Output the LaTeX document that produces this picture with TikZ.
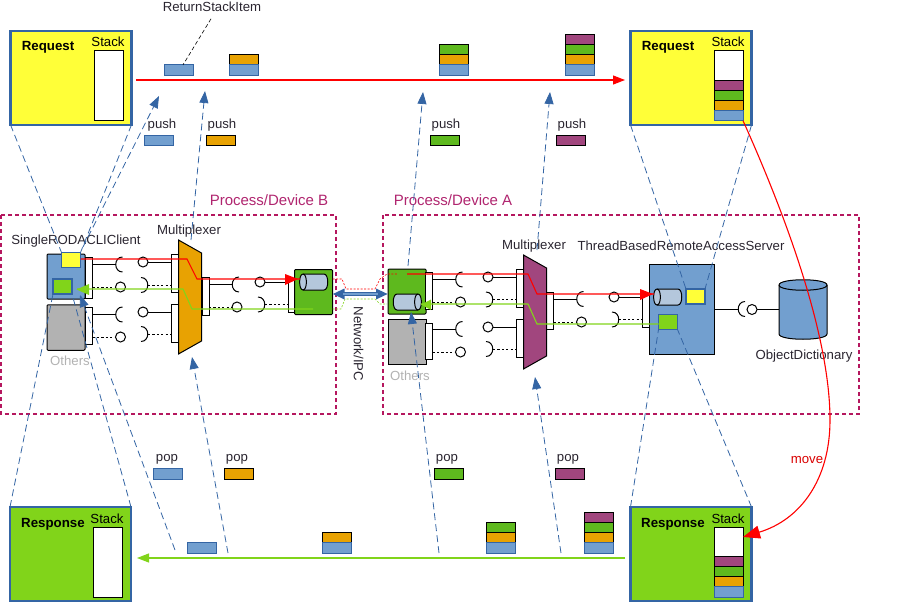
\documentclass[tikz,border=0pt]{standalone}
\usepackage{fontspec}
\setmainfont{Liberation Sans}
\usetikzlibrary{arrows.meta}
\definecolor{cBlue}{HTML}{729FCF}
\definecolor{cEdge}{HTML}{3465A4}
\definecolor{cOrange}{HTML}{E8A202}
\definecolor{cGreen}{HTML}{5EB91E}
\definecolor{cLime}{HTML}{81D41A}
\definecolor{cPurple}{HTML}{A1467E}
\definecolor{cYellow}{HTML}{FFFF38}
\definecolor{cGray}{HTML}{B2B2B2}
\definecolor{cPipe}{HTML}{B4C7DC}
\definecolor{cProc}{HTML}{B5175F}
\definecolor{cProcT}{HTML}{B0256F}
\definecolor{cInk}{HTML}{2A2530}
\tikzset{
  lbl/.style={inner sep=0pt,outer sep=0pt,yshift=-1pt,text=cInk,font=\fontsize{13.2}{15}\selectfont},
  titlebl/.style={lbl,yshift=-1pt,text=black,font=\fontsize{13.3}{15}\selectfont\bfseries},
  card/.style={draw=cEdge,line width=2.2pt,minimum width=121pt,minimum height=94pt,inner sep=0pt,outer sep=0pt},
  slot/.style={draw=black,fill=white,line width=.9pt,minimum width=29pt,minimum height=70pt,inner sep=0pt,outer sep=0pt},
  tok/.style={line width=.9pt,minimum width=29pt,minimum height=10.3pt,inner sep=0pt,outer sep=0pt},
  tokB/.style={tok,draw=cEdge,fill=cBlue},
  tokO/.style={tok,draw=black,fill=cOrange},
  tokG/.style={tok,draw=black,fill=cGreen},
  tokP/.style={tok,draw=black,fill=cPurple},
  comp/.style={draw=black,line width=1pt,inner sep=0pt,outer sep=0pt},
  port/.style={comp,fill=white,minimum width=7pt},
  flag/.style={draw=cEdge,line width=1.2pt,minimum width=19pt,minimum height=15pt,inner sep=0pt,outer sep=0pt},
  pipe/.style={inner sep=0pt,outer sep=0pt,minimum width=28pt,minimum height=16pt},
  proc/.style={draw=cProc,line width=2.4pt,dash pattern=on 4pt off 3pt},
  zoomln/.style={draw=cEdge,line width=.8pt,dash pattern=on 7pt off 4pt},
  flow/.style={zoomln,-{Triangle[length=12pt,width=9pt]}},
  redln/.style={red,line width=1.1pt},
  limeln/.style={cLime,line width=1.1pt},
  dotln/.style={line width=1pt,dash pattern=on 2.2pt off 2.2pt}
}
% solid link: port edge, next port, socket y, plug y
\newcommand\solidlink[4]{
  \draw[line width=1pt] (#1,#3) -- (#1+23,#3);
  \draw[line width=1pt] (#1+30,#3-7.5) .. controls (#1+21,#3-7.5) and (#1+21,#3+7.5) .. (#1+30,#3+7.5);
  \draw[line width=1pt] (#2-28,#4) circle (5pt);
  \draw[line width=1pt] (#2-23,#4) -- (#2,#4);
}
% dotted link: port edge, next port, plug y, socket y
\newcommand\dotlink[4]{
  \draw[dotln] (#1,#3) -- (#1+23,#3);
  \draw[line width=1pt] (#1+28,#3) circle (5pt);
  \draw[line width=1pt] (#2-30,#4-7.5) .. controls (#2-21,#4-7.5) and (#2-21,#4+7.5) .. (#2-30,#4+7.5);
  \draw[dotln] (#2-23,#4) -- (#2,#4);
}
% lying cylinder, end cap on the left: name, x, y
\newcommand\pipeL[3]{
  \draw[comp,fill=cPipe] (#2-11,#3-8) -- (#2+10,#3-8) .. controls (#2+15,#3-8) and (#2+15,#3+8) .. (#2+10,#3+8) -- (#2-11,#3+8) .. controls (#2-15.5,#3+8) and (#2-15.5,#3-8) .. (#2-11,#3-8) -- cycle;
  \draw[comp] (#2-11,#3-8) .. controls (#2-6.5,#3-8) and (#2-6.5,#3+8) .. (#2-11,#3+8);
  \node[pipe] (#1) at (#2,#3) {};
}
% lying cylinder, end cap on the right: name, x, y
\newcommand\pipeR[3]{
  \draw[comp,fill=cPipe] (#2+11,#3-8) -- (#2-10,#3-8) .. controls (#2-15,#3-8) and (#2-15,#3+8) .. (#2-10,#3+8) -- (#2+11,#3+8) .. controls (#2+15.5,#3+8) and (#2+15.5,#3-8) .. (#2+11,#3-8) -- cycle;
  \draw[comp] (#2+11,#3-8) .. controls (#2+6.5,#3-8) and (#2+6.5,#3+8) .. (#2+11,#3+8);
  \node[pipe] (#1) at (#2,#3) {};
}
\begin{document}
\begin{tikzpicture}[x=1pt,y=-1pt,>={Triangle[length=12pt,width=9pt]}]
  \useasboundingbox (0,0) rectangle (910,602);

  % process areas
  \draw[proc] (1,215) rectangle (336,414);
  \draw[proc] (383,215) rectangle (859,414);
  \node[lbl,text=cProcT,font=\fontsize{15}{17}\selectfont] (procB) at (269,199.5) {Process/Device B};
  \node[lbl,text=cProcT,font=\fontsize{15}{17}\selectfont] (procA) at (453,199.5) {Process/Device A};

  % client side
  \node[comp,fill=cBlue,minimum width=38pt,minimum height=45pt,rounded corners=1pt] (client) at (66,276.5) {};
  \node[comp,fill=cGray,minimum width=38pt,minimum height=45.5pt,rounded corners=1pt] (others1) at (66,327.5) {};
  \node[port,minimum height=41pt] (pC1) at (89,277.5) {};
  \node[port,minimum height=37pt] (pC2) at (89,326) {};
  \node[flag,fill=cYellow] (yelC) at (71,260) {};
  \node[flag,fill=cLime] (limeC) at (62.5,286.5) {};
  \node[lbl] (clientlbl) at (76,240) {SingleRODACLIClient};
  \node[lbl,text=cGray] (otherslbl1) at (70,360) {Others};
  \solidlink{92.5}{171}{264.5}{262}
  \dotlink{92.5}{171}{287}{285}
  \solidlink{92.5}{171}{314.5}{312}
  \dotlink{92.5}{171}{337}{334}

  % multiplexer B
  \node[port,minimum height=38pt] (mB1) at (175,273) {};
  \node[port,minimum height=38pt] (mB2) at (175,323) {};
  \node[port,minimum height=38pt] (mB3) at (205.5,296) {};
  \draw[comp,fill=cOrange] (178.5,240) -- (201.5,253) -- (201.5,341) -- (178.5,354) -- cycle;
  \node[lbl] (muxB) at (189,230) {Multiplexer};
  \solidlink{209}{288}{284.5}{282}
  \dotlink{209}{288}{307}{304.5}

  % device B
  \node[port,minimum height=33pt] (pD) at (291.5,295.5) {};
  \node[comp,fill=cGreen,minimum width=38pt,minimum height=45pt,rounded corners=1pt] (devB) at (313.5,292) {};
  \pipeL{pipeB}{314}{282}

  % device A
  \node[comp,fill=cGreen,minimum width=38pt,minimum height=45pt,rounded corners=1pt] (devA) at (407,291.5) {};
  \node[comp,fill=cGray,minimum width=38pt,minimum height=45pt] (others2) at (407,341.5) {};
  \node[port,minimum height=37pt] (pA1) at (429,291) {};
  \node[port,minimum height=36pt] (pA2) at (429,341) {};
  \pipeR{pipeA}{407}{302}
  \node[lbl,text=cGray] (otherslbl2) at (410,375) {Others};
  \solidlink{432.5}{516}{279.5}{277}
  \dotlink{432.5}{516}{302}{299.5}
  \solidlink{432.5}{516}{329}{327}
  \dotlink{432.5}{516}{352}{349}

  % multiplexer A
  \node[port,minimum height=38pt] (mA1) at (520,288) {};
  \node[port,minimum height=38pt] (mA2) at (520,338) {};
  \node[port,minimum height=37pt] (mA3) at (550,311) {};
  \draw[comp,fill=cPurple] (523.5,255) -- (546.5,268) -- (546.5,356) -- (523.5,369) -- cycle;
  \node[lbl] (muxA) at (534,245) {Multiplexer};
  \solidlink{553.5}{642}{299}{297}
  \dotlink{553.5}{642}{322}{319.5}

  % server and dictionary
  \node[port,minimum height=33pt] (pS) at (646,310.5) {};
  \node[comp,fill=cBlue,minimum width=65pt,minimum height=90pt] (server) at (682,309) {};
  \pipeL{pipeS}{668}{297}
  \node[flag,fill=cYellow] (yelS) at (695.5,296.5) {};
  \node[flag,fill=cLime] (limeS) at (668,322) {};
  \node[lbl] (serverlbl) at (681,245) {ThreadBasedRemoteAccessServer};
  \draw[comp,fill=cBlue] (779,285) -- (779,334) .. controls (779,341) and (827,341) .. (827,334) -- (827,285) .. controls (827,278) and (779,278) .. (779,285) -- cycle;
  \draw[comp] (779,285) .. controls (779,292) and (827,292) .. (827,285);
  \node[pipe,minimum width=48pt,minimum height=59pt] (dict) at (803,309.5) {};
  \node[lbl] (dictlbl) at (804,355) {ObjectDictionary};
  \draw[line width=1pt] (server.east) -- (738,309);
  \draw[line width=1pt] (745,301.5) .. controls (736,301.5) and (736,316.5) .. (745,316.5);
  \draw[line width=1pt] (752,309.5) circle (5pt);
  \draw[line width=1pt] (757,309) -- (dict.west |- 0,309);

  % network
  \draw[red,line width=.6pt,dash pattern=on 2pt off 1.5pt] (devB.east |- 0,279) -- (342,279) -- (346,289) -- (375,289) -- (380,279) -- (387,274) -- (398,274);
  \draw[cLime,line width=.6pt,dash pattern=on 2pt off 1.5pt] (devB.east |- 0,309) -- (341,309) -- (345,299) -- (375,299) -- (380,304) -- (387,304);
  \draw[cEdge,line width=3.2pt,{Triangle[length=12pt,width=10pt]}-{Triangle[length=12pt,width=10pt]}] (devB.east |- 0,294) -- (devA.west |- 0,294);
  \draw[cBlue,line width=1.2pt] (343,294) -- (378,294);
  \node[inner sep=0pt,outer sep=0pt,text=cInk,font=\fontsize{13.2}{15}\selectfont,rotate=-90] (netlbl) at (358.5,344) {Network/IPC};

  % request and response cards
  \node[card,fill=cYellow] (reqL) at (71,77.7) {};
  \node[card,fill=cYellow] (reqR) at (691,78) {};
  \node[card,fill=cLime] (respL) at (70.5,554) {};
  \node[card,fill=cLime] (respR) at (691,554) {};
  \node[titlebl] (reqLt) at (48,45) {Request};
  \node[titlebl] (reqRt) at (668,45) {Request};
  \node[titlebl] (respLt) at (53,522) {Response};
  \node[titlebl] (respRt) at (673,522) {Response};
  \foreach \x/\y/\n in {108/41/a,728/41/b,107/518/c,728/518/d}
    \node[lbl,text=black] (stk\n) at (\x,\y) {Stack};
  \node[slot] (slotA) at (108.5,85) {};
  \node[slot] (slotB) at (728.5,85.5) {};
  \node[slot] (slotC) at (107.5,562) {};
  \node[slot] (slotD) at (728.5,562) {};
  \node[tokP] (b4) at (728.5,85.2) {};
  \node[tokG] (b3) at (728.5,95.5) {};
  \node[tokO] (b2) at (728.5,105.5) {};
  \node[tokB] (b1) at (728.5,115.5) {};
  \node[tokP] (d4) at (728.5,561.2) {};
  \node[tokG] (d3) at (728.5,571.5) {};
  \node[tokO] (d2) at (728.5,581.5) {};
  \node[tokB] (d1) at (728.5,592) {};

  % moving tokens
  \node[tokB] (r1) at (178.5,70) {};
  \node[tokO] (r2) at (243.5,60) {};
  \node[tokB] (r3) at (243.5,70) {};
  \node[tokG] (r4) at (453.5,50) {};
  \node[tokO] (r5) at (453.5,60) {};
  \node[tokB] (r6) at (453.5,70) {};
  \node[tokP] (r7) at (579.5,40) {};
  \node[tokG] (r8) at (579.5,50) {};
  \node[tokO] (r9) at (579.5,60) {};
  \node[tokB] (r10) at (579.5,70) {};
  \node[tokB] (s1) at (201.5,548) {};
  \node[tokO] (s2) at (336.5,538) {};
  \node[tokB] (s3) at (336.5,548) {};
  \node[tokG] (s4) at (500.5,528) {};
  \node[tokO] (s5) at (500.5,538) {};
  \node[tokB] (s6) at (500.5,548) {};
  \node[tokP] (s7) at (598.5,518) {};
  \node[tokG] (s8) at (598.5,528) {};
  \node[tokO] (s9) at (598.5,538) {};
  \node[tokB] (s10) at (598.5,548) {};
  \node[tokB] (push1) at (159,140.5) {};
  \node[tokO] (push2) at (220.5,140.5) {};
  \node[tokG] (push3) at (444.5,140.5) {};
  \node[tokP] (push4) at (570.5,140.5) {};
  \node[tokB] (pop1) at (168,474) {};
  \node[tokO] (pop2) at (238.5,474) {};
  \node[tokG] (pop3) at (448.5,474) {};
  \node[tokP] (pop4) at (569.5,474) {};
  \foreach \x/\n in {162/a,222/b,446/c,572/d}
    \node[lbl] (pushlbl\n) at (\x,124) {push};
  \foreach \x/\n in {167/a,237/b,447/c,568/d}
    \node[lbl] (poplbl\n) at (\x,458) {pop};
  \node[lbl] (itemlbl) at (212,6) {ReturnStackItem};
  \draw[line width=.6pt,dash pattern=on 4pt off 2.5pt] (itemlbl.south) ++(-1,7) -- (r1.north -| 183,0);

  % zoom lines
  \draw[zoomln] (reqL.south west) -- (yelC.north west);
  \draw[zoomln] (reqL.south east) -- (yelC.north east);
  \draw[zoomln] (respL.north west) -- (limeC.south west);
  \draw[zoomln] (respL.north east) -- (limeC.south east);
  \draw[zoomln] (reqR.south west) -- (yelS.north west);
  \draw[zoomln] (reqR.south east) -- (yelS.north east);
  \draw[zoomln] (respR.north west) -- (limeS.south west);
  \draw[zoomln] (respR.north east) -- (limeS.south east);

  % push and pop flows
  \coordinate (fA) at (83,247);
  \coordinate (fB) at (191,240);
  \coordinate (fC) at (408,266);
  \coordinate (fD) at (537,250);
  \coordinate (gA) at (175,550);
  \coordinate (gB) at (228,553);
  \coordinate (gC) at (439,553);
  \coordinate (gD) at (561,553);
  \draw[flow] (fA) -- (159,96);
  \draw[flow] (fB) -- (205,91);
  \draw[flow] (fC) -- (423,92);
  \draw[flow] (fD) -- (550,92);
  \draw[flow] (gA) -- (80,295);
  \draw[flow] (gB) -- (192,357);
  \draw[flow] (gC) -- (411,312);
  \draw[flow] (gD) -- (535,377);

  % main flows
  \coordinate (redS) at (136,80);
  \coordinate (redE) at (625,80);
  \coordinate (limeS1) at (625,558);
  \coordinate (limeE) at (137,558);
  \draw[redln,->] (redS) -- (redE);
  \draw[limeln,->] (limeS1) -- (limeE);
  \draw[redln] (yelC.east |- 0,259) -- (187,259) -- (197,279) -- (pipeB.west |- 0,279);
  \draw[redln] (407,274) -- (528,274) -- (537,294) -- (pipeS.west |- 0,294);
  \draw[limeln] (limeS.west |- 0,324) -- (537,324) -- (528,304) -- (pipeA.east |- 0,304);
  \draw[limeln] (313,309) -- (192,309) -- (183,289) -- (77,289);
  \fill[red] (640,289) -- (653,294) -- (640,300) -- cycle;
  \fill[red] (285,274) -- (298,279) -- (285,285) -- cycle;
  \fill[cLime] (431,299.5) -- (421,304.5) -- (431,310) -- cycle;
  \fill[cLime] (89,284) -- (76.5,289.5) -- (89,295) -- cycle;
  \draw[redln,-{Triangle[length=17pt,width=13pt]}] (b1.south east) .. controls (790,225) and (830,340) .. (830,420)
    .. controls (830,480) and (800,520) .. (slotD.east |- 0,537);
  \node[lbl,text=red!85!black] (movelbl) at (807,459) {move};
\end{tikzpicture}
\end{document}
